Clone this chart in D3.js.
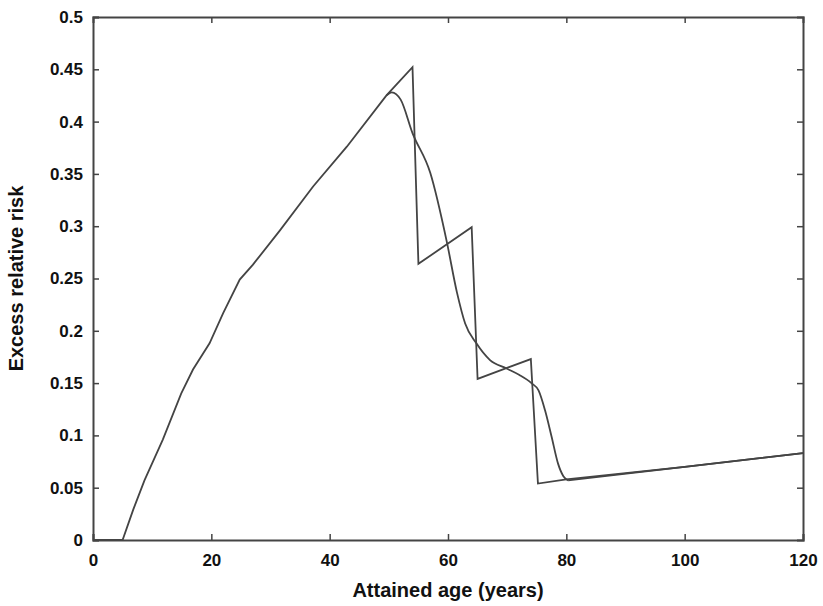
<!DOCTYPE html>
<html>
<head>
<meta charset="utf-8">
<script src="https://cdn.jsdelivr.net/npm/d3@7"></script>
<style>
  body { margin: 0; background: #fff; }
  svg text { font-family: "Liberation Sans", Arial, sans-serif; font-weight: bold; fill: #111; }
</style>
</head>
<body>
<div id="chart"></div>
<script>
// attained age -> excess relative risk
var xTicks = [0, 20, 40, 60, 80, 100, 120];
var yTicks = [0, 0.05, 0.1, 0.15, 0.2, 0.25, 0.3, 0.35, 0.4, 0.45, 0.5];

// step (piecewise) model
var stepAge = [0, 5, 6.8, 8.7, 11.8, 14.9, 16.9, 19.7, 22, 24.8, 27, 31.6, 37.2, 42.9, 49.6, 54, 55, 64, 65, 74, 75.2, 80, 100, 120];
var stepErr = [0, 0, 0.029, 0.057, 0.096, 0.140, 0.163, 0.188, 0.217, 0.249, 0.263, 0.296, 0.338, 0.376, 0.425, 0.452, 0.264, 0.299, 0.154, 0.173, 0.054, 0.058, 0.070, 0.083];

// smooth model
var smoothAge = [0, 5, 6.8, 8.7, 11.8, 14.9, 16.9, 19.7, 22, 24.8, 27, 31.6, 37.2, 42.9, 49.6, 50.5, 52, 54, 57, 59.8, 61.5, 62.9, 64.8, 67.1, 69.9, 72, 74.1, 75.3, 76.4, 77.5, 78.6, 79.5, 80.3, 100, 120];
var smoothErr = [0, 0, 0.029, 0.057, 0.096, 0.140, 0.163, 0.188, 0.217, 0.249, 0.263, 0.296, 0.338, 0.376, 0.425, 0.428, 0.421, 0.389, 0.351, 0.285, 0.237, 0.207, 0.188, 0.172, 0.164, 0.158, 0.150, 0.143, 0.124, 0.099, 0.073, 0.061, 0.057, 0.070, 0.083];

function main(){
    var margin = { top: 17, right: 20, bottom: 66, left: 93 },
        width  = 823 - margin.left - margin.right,
        height = 606 - margin.top - margin.bottom;

    var x = d3.scaleLinear().domain([0, 120]).range([0, width]);
    var y = d3.scaleLinear().domain([0, 0.5]).range([height, 0]);

    var svg = d3.select('#chart').append('svg')
                .attr('width', 823)
                .attr('height', 606)
             .append('g')
                .attr('transform', 'translate(' + margin.left + ',' + margin.top + ')');

    var fmt = function(d){ return d === 0 ? '0' : String(d); };

    // bottom & left axes with inward ticks
    var xAxis = svg.append('g')
       .attr('transform', 'translate(0,' + height + ')')
       .call(d3.axisBottom(x).tickValues(xTicks).tickSize(-6).tickPadding(14).tickFormat(fmt));
    var yAxis = svg.append('g')
       .call(d3.axisLeft(y).tickValues(yTicks).tickSize(-6).tickPadding(10).tickFormat(fmt));
    // top & right mirrored ticks
    var xTop = svg.append('g')
       .call(d3.axisTop(x).tickValues(xTicks).tickSize(-6).tickFormat(''));
    var yRight = svg.append('g')
       .attr('transform', 'translate(' + width + ',0)')
       .call(d3.axisRight(y).tickValues(yTicks).tickSize(-6).tickFormat(''));

    [xAxis, yAxis, xTop, yRight].forEach(function(g){
        g.select('.domain').attr('stroke', '#444').attr('stroke-width', 2);
        g.selectAll('.tick line').attr('stroke', '#444').attr('stroke-width', 1.5);
        g.selectAll('.tick text').style('font-size', '17px').attr('fill', '#111');
    });
    xTop.selectAll('.tick').filter(function(d){ return d === 0 || d === 120; }).remove();
    yRight.selectAll('.tick').filter(function(d){ return d === 0 || d === 0.5; }).remove();

    var line = d3.line()
        .x(function(d){ return x(d[0]); })
        .y(function(d){ return y(d[1]); });

    var stepData = stepAge.map(function(a, i){ return [a, stepErr[i]]; });
    var smoothData = smoothAge.map(function(a, i){ return [a, smoothErr[i]]; });

    // smooth model: shared part drawn by step path, draw only where it differs
    var smoothPart = smoothData.filter(function(d){ return d[0] >= 49.6 && d[0] <= 80.3; });
    var smoothTail = smoothData.filter(function(d){ return d[0] >= 80.3; });

    svg.append('path')
       .datum(smoothPart)
       .attr('fill', 'none')
       .attr('stroke', '#444')
       .attr('stroke-width', 1.8)
       .attr('d', line.curve(d3.curveMonotoneX));

    svg.append('path')
       .datum(smoothTail)
       .attr('fill', 'none')
       .attr('stroke', '#444')
       .attr('stroke-width', 1.8)
       .attr('d', line.curve(d3.curveLinear));

    svg.append('path')
       .datum(stepData)
       .attr('fill', 'none')
       .attr('stroke', '#444')
       .attr('stroke-width', 1.8)
       .attr('d', line.curve(d3.curveLinear));

    // axis titles
    svg.append('text')
       .attr('x', width / 2)
       .attr('y', height + 57)
       .attr('text-anchor', 'middle')
       .style('font-size', '20px')
       .text('Attained age (years)');

    svg.append('text')
       .attr('transform', 'translate(' + (-70) + ',' + (height / 2) + ') rotate(-90)')
       .attr('text-anchor', 'middle')
       .style('font-size', '20px')
       .text('Excess relative risk');
}

main();
</script>
</body>
</html>
